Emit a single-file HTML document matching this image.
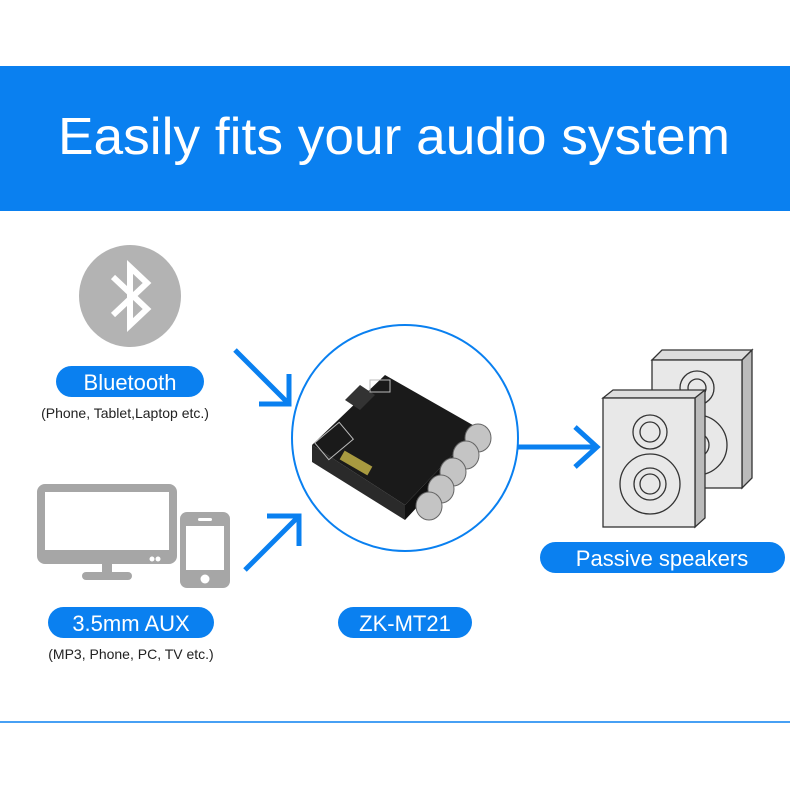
<!DOCTYPE html>
<html><head><style>
body{margin:0;background:#fff}
svg{display:block}
text{font-family:"Liberation Sans",sans-serif}
</style></head><body>
<svg width="790" height="790" viewBox="0 0 790 790" xmlns="http://www.w3.org/2000/svg">
<rect width="790" height="790" fill="#fff"/>
<rect x="0" y="66" width="790" height="145" fill="#0a80f0"/>
<text x="58" y="154" font-size="52" fill="#fff" textLength="672" lengthAdjust="spacingAndGlyphs">Easily fits your audio system</text>
<line x1="0" y1="722" x2="790" y2="722" stroke="#0a80f0" stroke-width="1.5"/>

<!-- bluetooth -->
<circle cx="130" cy="296" r="51" fill="#b3b3b3"/>
<path d="M113 277 L147 309 L130 325 L130 267 L147 283 L113 315" fill="none" stroke="#fff" stroke-width="6" stroke-linejoin="miter"/>
<rect x="56" y="366" width="148" height="31" rx="15.5" fill="#0a80f0"/>
<text x="130" y="390" font-size="22" fill="#fff" text-anchor="middle">Bluetooth</text>
<text x="125" y="418" font-size="14" fill="#222" text-anchor="middle">(Phone, Tablet,Laptop etc.)</text>

<!-- monitor + phone -->
<rect x="41" y="488" width="132" height="72" rx="4" fill="none" stroke="#a6a6a6" stroke-width="8"/>
<rect x="41" y="550" width="132" height="12" fill="#a6a6a6"/>
<circle cx="152" cy="559" r="2.5" fill="#fff"/><circle cx="158" cy="559" r="2.5" fill="#fff"/>
<rect x="102" y="562" width="10" height="11" fill="#a6a6a6"/>
<rect x="82" y="572" width="50" height="8" rx="4" fill="#a6a6a6"/>
<rect x="180" y="512" width="50" height="76" rx="7" fill="#a6a6a6"/>
<rect x="186" y="526" width="38" height="44" fill="#fff"/>
<rect x="198" y="518" width="14" height="3" rx="1.5" fill="#fff"/>
<circle cx="205" cy="579" r="4.5" fill="#fff"/>
<rect x="48" y="607" width="166" height="31" rx="15.5" fill="#0a80f0"/>
<text x="131" y="631" font-size="22" fill="#fff" text-anchor="middle">3.5mm AUX</text>
<text x="131" y="659" font-size="14" fill="#222" text-anchor="middle">(MP3, Phone, PC, TV etc.)</text>

<!-- arrows -->
<g stroke="#0a80f0" stroke-width="5" fill="none">
<line x1="235" y1="350" x2="287" y2="402"/>
<polyline points="259,404 289,404 289,374"/>
<line x1="245" y1="570" x2="297" y2="518"/>
<polyline points="267,516 299,516 299,546"/>
<line x1="516" y1="447" x2="595" y2="447"/>
<polyline points="575,427 597,447 575,467"/>
</g>

<!-- module circle -->
<circle cx="405" cy="438" r="113" fill="#fff" stroke="#0a80f0" stroke-width="2"/>
<g>
<polygon points="312,445 405,505 405,520 312,462" fill="#2a2a2a"/>
<polygon points="405,505 478,428 478,442 405,520" fill="#111"/>
<polygon points="312,445 385,375 478,428 405,505" fill="#1a1a1a"/>
<polygon points="345,400 360,385 375,395 360,410" fill="#333"/>
<rect x="340" y="458" width="32" height="10" fill="#a89a40" transform="rotate(30 356 463)"/>
<rect x="318" y="430" width="32" height="22" fill="none" stroke="#bbb" stroke-width="1" transform="rotate(-40 334 441)"/>
<rect x="370" y="380" width="20" height="12" fill="none" stroke="#bbb" stroke-width="1"/>
<g fill="#c4c4c4" stroke="#666">
<ellipse cx="478" cy="438" rx="13" ry="14"/>
<ellipse cx="466" cy="455" rx="13" ry="14"/>
<ellipse cx="453" cy="472" rx="13" ry="14"/>
<ellipse cx="441" cy="489" rx="13" ry="14"/>
<ellipse cx="429" cy="506" rx="13" ry="14"/>
</g>
</g>
<rect x="338" y="607" width="134" height="31" rx="15.5" fill="#0a80f0"/>
<text x="405" y="631" font-size="22" fill="#fff" text-anchor="middle">ZK-MT21</text>

<!-- speakers -->
<g stroke="#333" stroke-width="1.3">
<polygon points="652,360 662,350 752,350 742,360" fill="#ddd"/>
<polygon points="742,360 752,350 752,478 742,488" fill="#bbb"/>
<rect x="652" y="360" width="90" height="128" fill="#e8e8e8"/>
<circle cx="697" cy="388" r="17" fill="#e8e8e8"/><circle cx="697" cy="388" r="9" fill="#e8e8e8"/>
<circle cx="697" cy="445" r="30" fill="#e8e8e8"/><circle cx="697" cy="445" r="12" fill="#e8e8e8"/>
<polygon points="603,398 613,390 705,390 695,398" fill="#ddd"/>
<polygon points="695,398 705,390 705,518 695,527" fill="#bbb"/>
<rect x="603" y="398" width="92" height="129" fill="#e8e8e8"/>
<circle cx="650" cy="432" r="17" fill="#e8e8e8"/><circle cx="650" cy="432" r="10" fill="#e8e8e8"/>
<circle cx="650" cy="484" r="30" fill="#e8e8e8"/><circle cx="650" cy="484" r="16" fill="#e8e8e8"/><circle cx="650" cy="484" r="10" fill="#e8e8e8"/>
</g>
<rect x="540" y="542" width="245" height="31" rx="15.5" fill="#0a80f0"/>
<text x="662" y="566" font-size="22" fill="#fff" text-anchor="middle">Passive speakers</text>
</svg>
</body></html>
